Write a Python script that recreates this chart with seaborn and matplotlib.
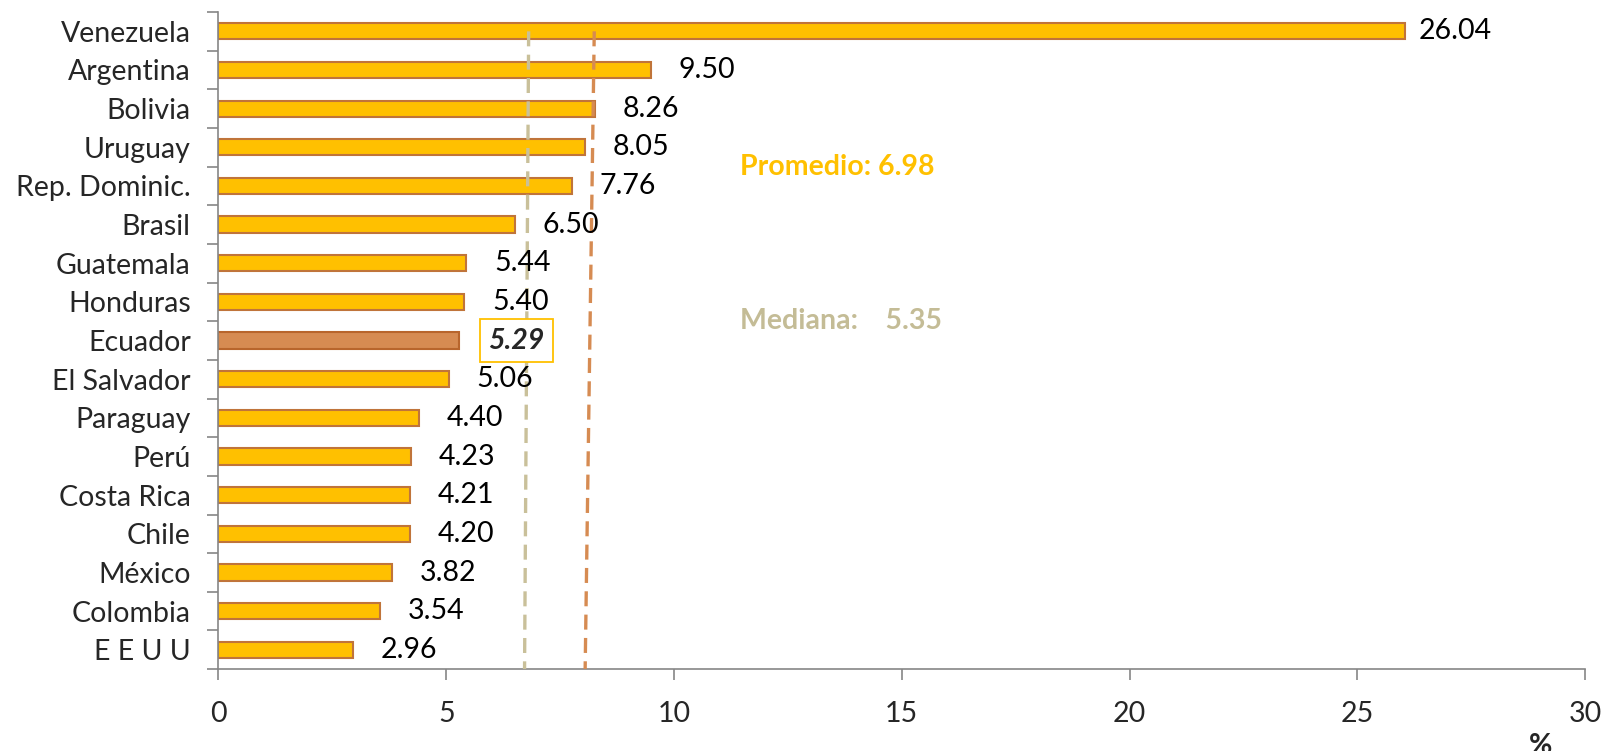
import matplotlib
matplotlib.use("Agg")
import matplotlib.pyplot as plt
import seaborn as sns
import pandas as pd
import numpy as np

countries = ["Venezuela", "Argentina", "Bolivia", "Uruguay", "Rep. Dominic.", "Brasil",
             "Guatemala", "Honduras", "Ecuador", "El Salvador", "Paraguay", "Perú",
             "Costa Rica", "Chile", "México", "Colombia", "E E U U"]
values = [26.04, 9.50, 8.26, 8.05, 7.76, 6.50, 5.44, 5.40, 5.29, 5.06, 4.40, 4.23,
          4.21, 4.20, 3.82, 3.54, 2.96]
highlight = "Ecuador"
promedio = 6.98
mediana = 5.35
xticks = [0, 5, 10, 15, 20, 25, 30]

sns.set_theme(style="white")
plt.rcParams['font.family'] = ['Lato', 'DejaVu Sans']

df = pd.DataFrame({"pais": countries, "valor": values})
colors = {c: ("#D68B52" if c == highlight else "#FFC000") for c in countries}

fig = plt.figure(figsize=(16.06, 7.51), dpi=100)
ax = fig.add_axes([0.136, 0.109, 0.851, 0.875])

sns.barplot(data=df, y="pais", x="valor", hue="pais", palette=colors, legend=False,
            orient="h", width=0.42, ax=ax, edgecolor="#C0743A", linewidth=1.5,
            saturation=1)
for p, c in zip(ax.patches, countries):
    if c == highlight:
        p.set_edgecolor("#B8652C")

FS = 20.5
ax.set_xlim(0, 30)
ax.set_ylim(len(countries) - 0.5, -0.5)
ax.set_xticks(xticks)
ax.set_xticklabels([str(t) for t in xticks], fontsize=FS)
ax.set_yticks(range(len(countries)))
ax.set_yticklabels(countries, fontsize=FS)
ax.set_yticks(np.arange(-0.5, len(countries), 1.0), minor=True)
ax.tick_params(axis='y', which='major', left=False, length=0, pad=20)
ax.tick_params(axis='y', which='minor', left=True, length=8, width=1.2, color="#868686",
               direction='out')
ax.tick_params(axis='x', which='major', bottom=True, length=8, width=1.2, color="#868686",
               direction='out', pad=15)
ax.set_xlabel("")
ax.set_ylabel("")
for s in ["top", "right"]:
    ax.spines[s].set_visible(False)
for s in ["left", "bottom"]:
    ax.spines[s].set_color("#868686")
    ax.spines[s].set_linewidth(1.2)

# reference lines (slightly slanted as in original)
ax.plot([6.81, 6.72], [0.0, len(countries) - 0.5], color="#C9C09A", lw=2.4,
        dashes=(4.5, 2.5), zorder=3)
ax.plot([8.25, 8.05], [0.0, len(countries) - 0.5], color="#D68B52", lw=2.4,
        dashes=(4.5, 2.5), zorder=3)

# value labels
for i, (c, v) in enumerate(zip(countries, values)):
    if c == highlight:
        ax.annotate(f"{v:.2f}", (v, i), xytext=(21, 0), textcoords="offset points",
                    va="center", ha="left", fontsize=FS, fontweight="bold", fontstyle="italic",
                    bbox=dict(boxstyle="square,pad=0.3", fc="white", ec="#FFC000", lw=1.3),
                    zorder=5)
    else:
        off = 10 if v > 20 else 20
        ax.annotate(f"{v:.2f}", (v, i), xytext=(off, 0), textcoords="offset points",
                    va="center", ha="left", fontsize=FS, color="black", zorder=5)

ax.text(11.45, 3.5, f"Promedio: {promedio:.2f}", color="#FFC000", fontsize=FS,
        fontweight="bold", va="center", ha="left")
ax.text(11.45, 7.5, f"Mediana:    {mediana:.2f}", color="#C4BC96", fontsize=FS,
        fontweight="bold", va="center", ha="left")

fig.text(0.952, 0.024, "%", fontsize=FS, fontweight="bold", va="top", ha="left")

fig.savefig("out.png", dpi=100)
